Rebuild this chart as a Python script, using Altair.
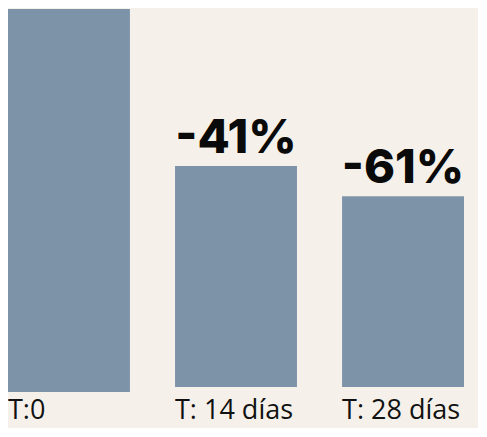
import altair as alt
import pandas as pd

categories = ["T:0", "T: 14 días", "T: 28 días"]
values = [100, 59.0, 51.1]
bases = [0, 1.3, 1.3]
labels = ["", "-41%", "-61%"]

df = pd.DataFrame({"cat": categories, "value": values, "base": bases, "label": labels})

x = alt.X("cat:N", sort=categories,
          scale=alt.Scale(paddingInner=0.27, paddingOuter=0), axis=None)
y = alt.Y("value:Q", scale=alt.Scale(domain=[0, 100.26], nice=False, zero=True), axis=None)

bars = alt.Chart(df).mark_bar(color="#7d93a8").encode(x=x, y=y, y2="base:Q")
text = alt.Chart(df).mark_text(font="Inter", fontSize=47, fontWeight=800, color="#0a0a0a",
                               baseline="alphabetic", dy=-13).encode(
    x=alt.X("cat:N", sort=categories), y="value:Q", text="label:N")
cats = alt.Chart(df).mark_text(font="Open Sans", fontSize=27, color="#111111",
                               align="left", baseline="alphabetic", dx=-61).encode(
    x=alt.X("cat:N", sort=categories), y=alt.value(411), text="cat:N")

chart = (bars + text + cats).properties(
    width=456, height=384,
    padding={"left": 0, "top": 0, "right": 14, "bottom": 36},
    autosize=alt.AutoSizeParams(type="none")).configure(
    background="#f5f1ea").configure_view(stroke=None)

chart.save("out.html", embed_options={"renderer": "svg", "actions": False})
